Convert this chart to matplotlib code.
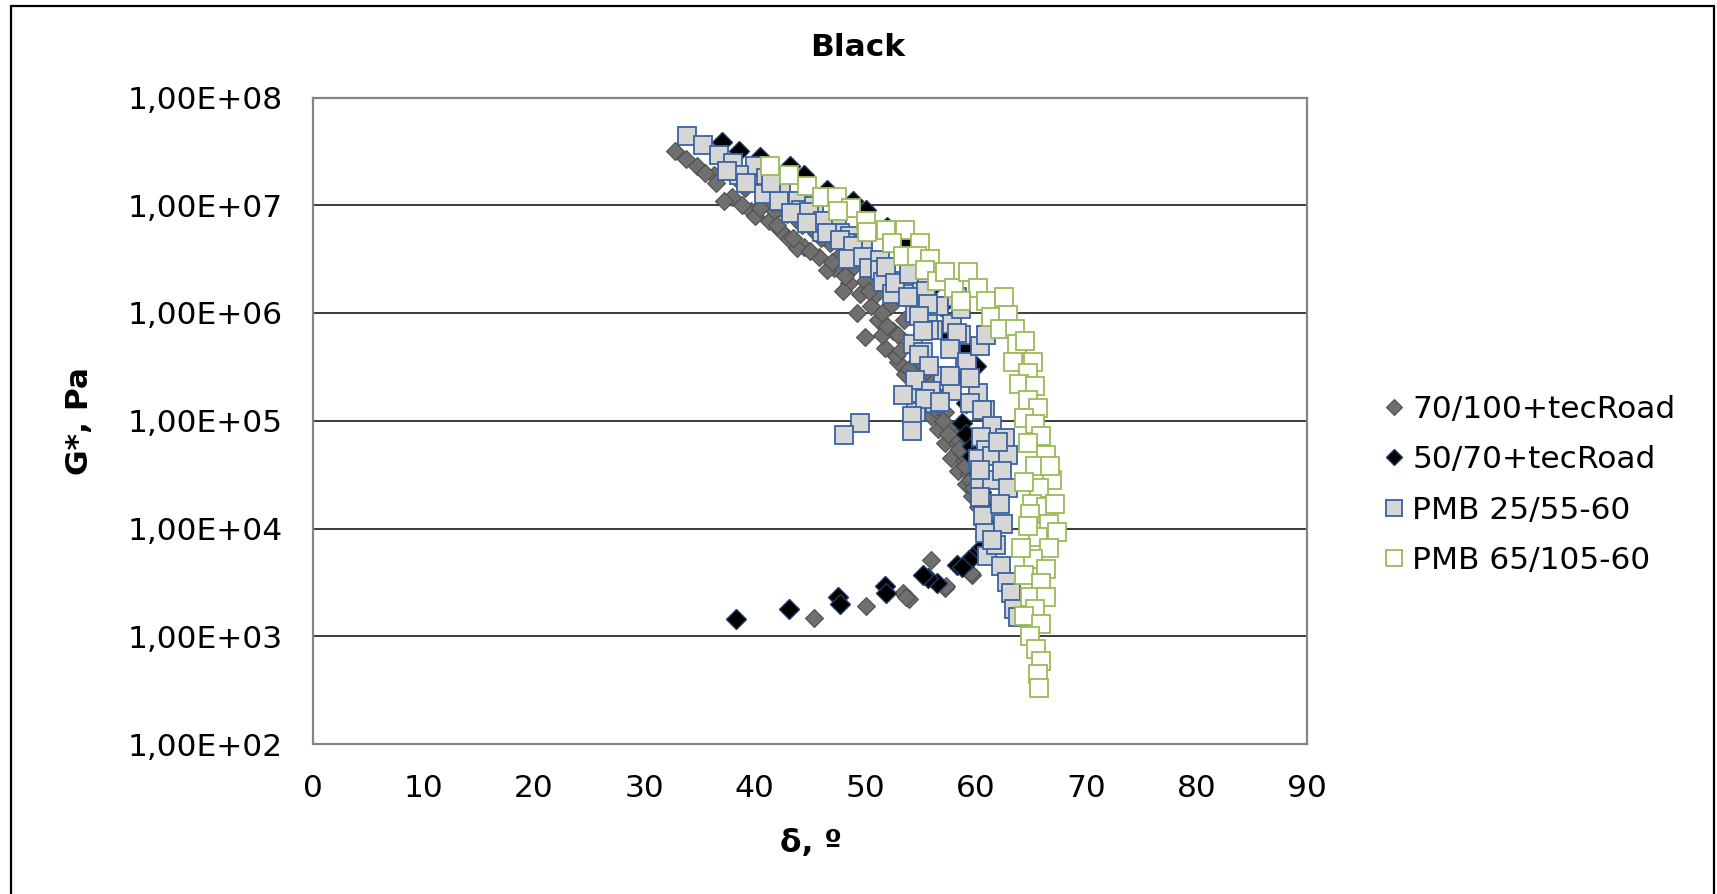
import matplotlib
matplotlib.use("Agg")
import matplotlib.pyplot as plt
from matplotlib.lines import Line2D
from matplotlib.patches import Rectangle

# ---------------- data ----------------
series_names = ["70/100+tecRoad", "50/70+tecRoad", "PMB 25/55-60", "PMB 65/105-60"]

d_70100 = [32.8, 33.8, 34.8, 36.3, 36.5, 37.9, 38.3, 39.1, 39.7, 40.9, 41.3, 42.3, 43.1, 42.9,
           44.3, 44.5, 45.8, 45.5, 46.8, 47.2, 47.8, 48.5, 49.0, 49.5, 50.0, 50.5, 51.0, 51.2,
           52.2, 50.0, 51.8, 52.5, 53.0, 53.5, 53.6, 54.1, 54.5, 55.0, 55.5, 56.0, 56.0, 56.7,
           56.6, 57.2, 57.2, 57.8, 57.8, 58.3, 58.4, 58.9, 59.1, 59.7, 59.4, 60.2,
           35.5, 37.2, 40.0, 41.8, 43.8, 46.5, 48.0, 49.3, 51.5, 52.8, 54.8, 55.8, 57.0, 58.2,
           58.8, 59.5, 53.0, 55.3,
           38.8, 40.5, 42.0, 43.5, 44.0, 45.0, 46.0, 47.0, 48.2, 50.3, 51.5, 52.0, 53.2, 54.0,
           55.0, 56.2, 57.5, 58.5, 59.0, 59.8, 60.4,
           45.4, 50.1, 53.4, 54.0, 53.7, 56.0, 57.2, 57.3, 59.7, 59.6]
g_70100 = [3.2e7, 2.7e7, 2.3e7, 1.9e7, 1.6e7, 1.2e7, 1.8e7, 1.45e7, 8.9e6, 1.1e7, 7.2e6, 5.9e6,
           4.9e6, 8.3e6, 6.6e6, 4.1e6, 3.3e6, 5.5e6, 4.5e6, 2.6e6, 3.5e6, 1.9e6, 2.75e6, 1.5e6,
           2.0e6, 1.15e6, 1.5e6, 8.7e5, 1.15e6, 6.0e5, 4.7e5, 6.8e5, 3.5e5, 8.7e5, 2.7e5, 5.0e5,
           1.95e5, 3.5e5, 1.45e5, 2.5e5, 1.1e5, 1.7e5, 8.3e4, 1.2e5, 6.2e4, 8.3e4, 4.5e4, 6.2e4,
           3.4e4, 4.3e4, 2.6e4, 2.0e4, 3.2e4, 1.6e4,
           2.0e7, 1.1e7, 7.9e6, 8.9e6, 4.0e6, 2.5e6, 1.6e6, 1.0e6, 6.3e5, 4.0e5, 2.2e5, 1.6e5,
           1.0e5, 7.1e4, 5.0e4, 2.8e4, 6.3e5, 2.8e5,
           1.0e7, 9.5e6, 6.5e6, 5.0e6, 7.0e6, 3.8e6, 5.0e6, 3.0e6, 2.2e6, 1.6e6, 1.0e6, 7.5e5,
           4.5e5, 3.0e5, 2.0e5, 1.3e5, 7.5e4, 5.5e4, 3.8e4, 2.4e4, 1.8e4,
           1.48e3, 1.9e3, 2.5e3, 2.2e3, 2.3e3, 5.1e3, 2.8e3, 2.9e3, 3.7e3, 3.9e3]

d_5070 = [37.0, 38.6, 40.5, 43.2, 44.5, 46.5, 48.9, 50.1, 52.0, 53.5, 55.0, 56.2, 56.9, 57.3,
          59.1, 60.0, 58.3, 59.1, 58.8, 59.1, 59.7, 59.7, 60.3, 60.5, 60.8, 61.0, 60.8,
          60.5, 59.7, 59.4, 58.3, 58.8, 56.5, 55.7, 55.2, 51.8, 51.9, 47.5, 47.7, 43.1, 38.3]
g_5070 = [3.9e7, 3.2e7, 2.8e7, 2.3e7, 1.9e7, 1.4e7, 1.1e7, 9.1e6, 6.3e6, 4.5e6, 2.8e6, 1.8e6,
          1.15e6, 6.5e5, 4.6e5, 3.2e5, 2.6e5, 1.45e5, 9.5e4, 7.6e4, 5.8e4, 4.7e4, 3.2e4, 2.2e4,
          1.6e4, 1.1e4, 8.3e3,
          6.6e3, 5.4e3, 5.1e3, 4.6e3, 4.4e3, 3.1e3, 3.5e3, 3.7e3, 2.9e3, 2.5e3, 2.3e3, 2.0e3,
          1.8e3, 1.45e3]

d_pmb2555 = [33.9, 35.3, 36.8, 38.0, 40.0, 41.0, 38.6, 40.9, 42.4, 42.4, 43.9, 44.2, 45.4, 45.9,
             47.4, 46.1, 47.7, 48.6, 48.9, 49.8, 40.8, 42.2, 43.3, 44.9, 46.2, 44.7, 46.5, 47.7,
             48.9, 48.4, 49.8, 50.3, 51.3, 51.3, 52.7, 51.6, 53.7, 52.4, 54.0, 55.1, 55.5, 54.5,
             55.7, 54.3, 55.2, 56.1, 39.2, 41.5, 37.5,
             52.4, 51.9, 52.7, 54.0, 55.5, 53.9, 56.7, 58.3, 55.8, 58.7, 57.8, 54.9, 59.0, 57.0,
             57.9, 54.6, 54.8, 60.2, 56.3, 59.5, 54.6, 60.8,
             55.7, 54.9, 55.2, 57.9, 58.3, 55.8, 57.7, 59.2, 54.5, 56.0, 57.7, 59.5, 53.4, 55.4,
             56.8, 54.2, 54.2, 60.6, 61.5, 60.5, 60.9, 60.2, 61.5, 60.4, 61.5, 60.4, 49.5, 48.1,
             60.4, 60.7, 60.8, 61.0, 62.7, 62.9, 62.4, 62.9, 62.2, 62.5, 61.8, 62.3, 62.8, 63.2,
             63.5, 63.8, 61.5, 62.0, 60.4, 60.9, 58.7]
g_pmb2555 = [4.4e7, 3.6e7, 2.95e7, 2.45e7, 2.3e7, 1.8e7, 1.9e7, 1.3e7, 1.4e7, 1.07e7, 1.1e7,
             9.1e6, 9.8e6, 7.2e6, 6.9e6, 5.6e6, 5.5e6, 5.2e6, 4.5e6, 4.3e6, 1.26e7, 1.1e7, 8.5e6,
             8.7e6, 7.1e6, 6.8e6, 5.5e6, 4.8e6, 4.2e6, 3.2e6, 3.3e6, 2.6e6, 3.1e6, 2.5e6, 2.0e6,
             1.95e6, 1.7e6, 1.5e6, 1.5e6, 1.7e6, 1.2e6, 1.0e6, 9.3e5, 5.2e5, 4.3e5, 6.9e5,
             1.6e7, 1.6e7, 2.1e7,
             4.5e6, 2.7e6, 1.9e6, 2.3e6, 1.6e6, 1.4e6, 1.15e6, 1.4e6, 6.9e5, 6.3e5, 4.7e5, 4.1e5,
             3.4e5, 2.6e5, 1.9e5, 2.3e5, 1.8e5, 1.8e5, 1.45e5, 1.45e5, 1.2e5, 1.26e5,
             1.2e6, 9.3e5, 6.8e5, 7.9e5, 6.5e5, 3.2e5, 4.6e5, 3.5e5, 2.4e5, 1.9e5, 2.6e5, 2.5e5,
             1.75e5, 1.6e5, 1.5e5, 1.1e5, 8.1e4, 1.26e5, 8.9e4, 7.1e4, 5.4e4, 4.4e4, 4.7e4, 2.8e4,
             2.8e4, 1.95e4, 9.5e4, 7.4e4,
             3.5e4, 1.3e4, 9.1e3, 5.5e3, 6.9e4, 4.8e4, 3.4e4, 2.4e4, 1.7e4, 1.1e4, 7.1e3, 4.5e3,
             3.2e3, 2.5e3, 1.8e3, 1.5e3, 7.9e3, 6.3e4, 4.9e5, 6.3e5, 1.1e6]

d_pmb65105 = [41.4, 43.1, 44.7, 46.1, 47.4, 48.7, 47.5, 50.1, 50.2, 51.9, 53.6, 52.4, 55.0, 53.4,
              54.7, 55.9, 55.4, 56.5, 57.2, 58.0, 59.3, 60.2, 58.7, 60.9, 62.6, 61.4, 62.9, 62.2,
              63.6, 63.7, 64.5, 65.2, 63.4, 64.7, 63.9, 65.4, 64.7, 65.6, 64.4, 65.4, 65.9, 64.7,
              66.4, 65.4, 66.9, 65.7, 65.1, 66.4, 64.9, 66.6, 67.4, 65.6, 66.6, 65.2, 66.4, 64.4,
              65.9, 64.9, 66.4, 65.4, 64.4, 65.9, 64.9, 65.5, 65.9, 65.6, 65.7,
              66.7, 67.2, 64.4, 64.1, 64.7]
g_pmb65105 = [2.3e7, 1.9e7, 1.5e7, 1.2e7, 1.2e7, 9.5e6, 8.9e6, 7.2e6, 5.6e6, 5.9e6, 5.9e6, 4.5e6,
              4.5e6, 3.4e6, 3.4e6, 3.2e6, 2.5e6, 2.0e6, 2.4e6, 1.7e6, 2.4e6, 1.7e6, 1.3e6, 1.3e6,
              1.4e6, 9.1e5, 9.5e5, 7.1e5, 7.1e5, 5.2e5, 5.5e5, 3.5e5, 3.5e5, 2.8e5, 2.2e5, 2.1e5,
              1.55e5, 1.3e5, 1.05e5, 9.3e4, 7.2e4, 6.2e4, 4.8e4, 3.8e4, 2.8e4, 2.4e4, 1.7e4,
              1.6e4, 1.35e4, 1.1e4, 9.3e3, 8.3e3, 6.6e3, 5.2e3, 4.2e3, 3.7e3, 3.1e3, 2.3e3, 2.3e3,
              1.8e3, 1.55e3, 1.3e3, 1.0e3, 7.6e2, 5.9e2, 4.5e2, 3.3e2,
              3.8e4, 1.7e4, 2.7e4, 6.6e3, 1.05e4]

x_ticks = [0, 10, 20, 30, 40, 50, 60, 70, 80, 90]
y_ticks = [1e2, 1e3, 1e4, 1e5, 1e6, 1e7, 1e8]
y_tick_labels = ["1,00E+02", "1,00E+03", "1,00E+04", "1,00E+05", "1,00E+06", "1,00E+07", "1,00E+08"]

# ---------------- figure ----------------
W, H = 1717, 894
fig = plt.figure(figsize=(W / 100, H / 100), dpi=100)
fig.patch.set_facecolor("white")
plt.rcParams["font.family"] = ["DejaVu Sans"]

ax = fig.add_axes([313 / W, 1 - 744 / H, 994 / W, 646.5 / H])
ax.set_yscale("log")
ax.set_xlim(0, 90)
ax.set_ylim(1e2, 1e8)
ax.set_xticks(x_ticks)
ax.set_xticklabels([str(t) for t in x_ticks])
ax.set_yticks(y_ticks)
ax.set_yticklabels(y_tick_labels)
ax.minorticks_off()
ax.tick_params(axis="both", length=0, labelsize=22.5)
ax.tick_params(axis="y", pad=22)
ax.tick_params(axis="x", pad=21.5)
ax.grid(axis="y", which="major", color="#3c3c3c", lw=1.4)
ax.set_axisbelow(True)
for s in ax.spines.values():
    s.set_color("#858585")
    s.set_linewidth(1.6)

styles = [
    dict(marker="D", ms=9.3, mfc="#6f6f6f", mec="#4f4f4f", mew=0.8),
    dict(marker="D", ms=10.5, mfc="#000000", mec="#1f3a66", mew=1.0),
    dict(marker="s", ms=12.6, mfc="#d6d6d6", mec="#3a62a0", mew=1.3),
    dict(marker="s", ms=12.8, mfc="#ffffff", mec="#9bbb59", mew=1.3),
]
data = [(d_70100, g_70100), (d_5070, g_5070), (d_pmb2555, g_pmb2555), (d_pmb65105, g_pmb65105)]
for i, ((xs, ys), st) in enumerate(zip(data, styles)):
    ax.plot(xs, ys, ls="none", zorder=3 + i, **st)

# legend
leg_styles = [
    dict(marker="D", ms=8, mfc="#6f6f6f", mec="#4f4f4f", mew=0.8),
    dict(marker="D", ms=8, mfc="#000000", mec="#1f3a66", mew=1.0),
    dict(marker="s", ms=11.5, mfc="#d6d6d6", mec="#3a62a0", mew=1.3),
    dict(marker="s", ms=11.5, mfc="#ffffff", mec="#9bbb59", mew=1.3),
]
handles = [Line2D([], [], ls="none", **st) for st in leg_styles]
fig.legend(handles, series_names, loc="upper left", bbox_to_anchor=(1385 / W, 1 - 395 / H),
           frameon=False, fontsize=22.5, handlelength=0.6, handletextpad=0.27,
           borderpad=0, borderaxespad=0, labelspacing=0.68)

# texts
fig.text(858 / W, 1 - 47 / H, "Black", ha="center", va="center", fontsize=22.5, fontweight="bold")
fig.text(79 / W, 1 - 421 / H, "G*, Pa", ha="center", va="center", rotation=90,
         fontsize=22.5, fontweight="bold")
fig.text(811 / W, 1 - 844 / H, "δ, º", ha="center", va="center", fontsize=22.5, fontweight="bold")

# chart frame
fig.add_artist(Rectangle((11 / W, -0.05), (1714 - 11) / W, 1.05 - 6 / H, fill=False,
                         edgecolor="black", lw=1.6, transform=fig.transFigure))

fig.savefig("out.png", dpi=100, facecolor="white")
